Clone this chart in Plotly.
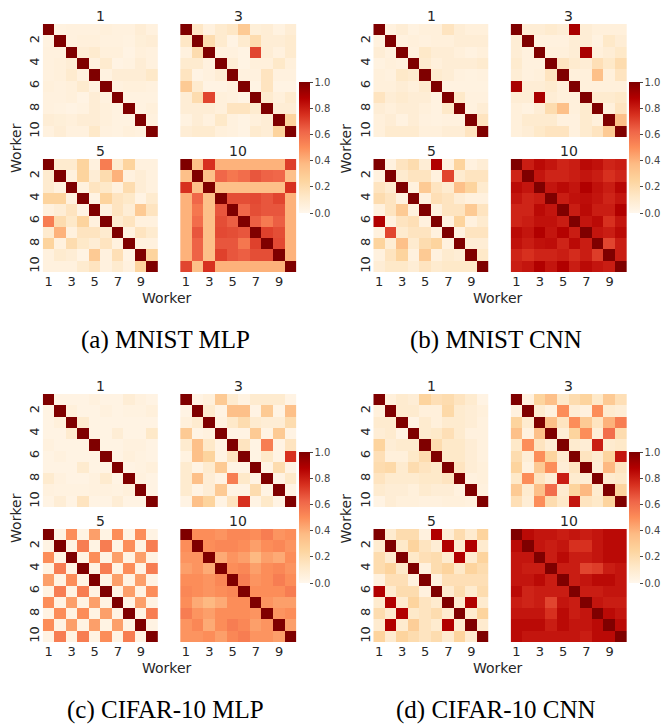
import plotly.graph_objects as go

W, H = 661, 725
workers = list(range(1, 11))
rounds = ["1", "3", "5", "10"]
captions = ["(a) MNIST MLP", "(b) MNIST CNN", "(c) CIFAR-10 MLP", "(d) CIFAR-10 CNN"]
x_ticks = [1, 3, 5, 7, 9]
y_ticks = [2, 4, 6, 8, 10]
cbar_ticks = [0.0, 0.2, 0.4, 0.6, 0.8, 1.0]

# ---------------- (a) MNIST MLP ----------------
mnist_mlp_1 = [
    [1, .04, .05, .05, .05, .06, .05, .05, .08, .05],
    [.04, 1, .05, .06, .06, .05, .05, .04, .07, .08],
    [.05, .05, 1, .08, .10, .06, .06, .03, .06, .05],
    [.05, .06, .08, 1, .05, .10, .03, .04, .08, .05],
    [.05, .06, .10, .05, 1, .04, .08, .08, .08, .12],
    [.06, .05, .06, .10, .04, 1, .05, .06, .06, .05],
    [.05, .05, .06, .03, .08, .05, 1, .04, .04, .04],
    [.05, .04, .03, .04, .08, .06, .04, 1, .04, .06],
    [.08, .07, .06, .08, .08, .06, .04, .04, 1, .05],
    [.05, .08, .05, .05, .12, .05, .04, .06, .05, 1],
]
mnist_mlp_3 = [
    [1, .13, .05, .10, .13, .30, .07, .08, .04, .08],
    [.13, 1, .20, .10, .03, .10, .20, .08, .08, .10],
    [.05, .20, 1, .05, .05, .03, .70, .08, .05, .10],
    [.10, .10, .05, 1, .08, .03, .06, .06, .12, .06],
    [.15, .03, .05, .08, 1, .05, .05, .15, .05, .05],
    [.30, .10, .03, .03, .05, 1, .03, .15, .03, .03],
    [.08, .20, .70, .06, .05, .03, 1, .10, .06, .10],
    [.08, .08, .08, .06, .15, .15, .10, 1, .08, .08],
    [.04, .08, .05, .12, .05, .03, .06, .08, 1, .25],
    [.08, .10, .10, .06, .05, .03, .10, .08, .25, 1],
]
mnist_mlp_5 = [
    [1, .10, .10, .25, .05, .55, .10, .25, .05, .05],
    [.10, 1, .05, .25, .08, .20, .40, .05, .08, .05],
    [.10, .05, 1, .05, .15, .12, .05, .20, .08, .05],
    [.25, .25, .05, 1, .03, .25, .15, .12, .03, .10],
    [.05, .08, .15, .03, 1, .05, .15, .08, .30, .15],
    [.55, .20, .12, .25, .05, 1, .10, .15, .05, .05],
    [.10, .40, .05, .15, .15, .10, 1, .05, .15, .10],
    [.25, .05, .20, .12, .08, .15, .05, 1, .05, .05],
    [.05, .10, .08, .03, .30, .05, .18, .03, 1, .25],
    [.05, .05, .05, .10, .15, .05, .10, .05, .25, 1],
]
mnist_mlp_10 = [
    [1, .35, .75, .40, .40, .40, .40, .40, .40, .72],
    [.35, 1, .35, .62, .57, .60, .66, .63, .62, .35],
    [.75, .35, 1, .35, .35, .35, .35, .35, .35, .75],
    [.40, .62, .35, 1, .68, .68, .69, .66, .70, .40],
    [.40, .57, .35, .66, 1, .62, .68, .66, .66, .40],
    [.40, .60, .35, .68, .64, 1, .64, .56, .64, .40],
    [.40, .66, .35, .69, .68, .66, 1, .71, .68, .40],
    [.40, .63, .35, .66, .66, .57, .71, 1, .69, .40],
    [.40, .63, .35, .71, .66, .64, .68, .68, 1, .40],
    [.70, .35, .75, .40, .40, .40, .40, .40, .40, 1],
]

# ---------------- (b) MNIST CNN ----------------
mnist_cnn_1 = [
    [1, .05, .08, .04, .06, .06, .15, .08, .06, .06],
    [.05, 1, .05, .06, .05, .06, .06, .08, .08, .08],
    [.08, .05, 1, .05, .12, .08, .08, .06, .04, .06],
    [.04, .06, .05, 1, .10, .06, .08, .08, .08, .10],
    [.06, .05, .12, .10, 1, .10, .08, .05, .04, .05],
    [.06, .06, .08, .06, .10, 1, .04, .04, .04, .04],
    [.15, .08, .10, .08, .08, .04, 1, .12, .05, .05],
    [.08, .06, .08, .08, .06, .04, .12, 1, .05, .08],
    [.06, .08, .04, .08, .05, .04, .05, .05, 1, .15],
    [.06, .10, .10, .10, .06, .06, .08, .08, .15, 1],
]
mnist_cnn_3 = [
    [1, .08, .08, .10, .08, .90, .08, .06, .06, .06],
    [.08, 1, .05, .05, .05, .08, .08, .04, .12, .08],
    [.08, .05, 1, .06, .06, .08, .90, .06, .08, .12],
    [.10, .05, .05, 1, .15, .10, .08, .18, .12, .20],
    [.08, .05, .06, .15, 1, .06, .06, .35, .06, .15],
    [.90, .08, .08, .10, .06, 1, .06, .06, .06, .06],
    [.08, .08, .90, .08, .06, .06, 1, .10, .10, .12],
    [.06, .04, .08, .20, .35, .06, .10, 1, .06, .15],
    [.06, .10, .10, .10, .05, .05, .10, .06, 1, .35],
    [.06, .08, .12, .15, .15, .05, .10, .15, .30, 1],
]
mnist_cnn_5 = [
    [1, .05, .15, .20, .08, .88, .05, .25, .05, .08],
    [.05, 1, .10, .15, .15, .05, .70, .10, .15, .15],
    [.15, .10, 1, .05, .30, .15, .10, .35, .25, .10],
    [.20, .15, .05, 1, .05, .18, .15, .08, .05, .05],
    [.05, .15, .30, .05, 1, .05, .15, .15, .30, .15],
    [.88, .05, .15, .18, .05, 1, .05, .25, .05, .10],
    [.05, .70, .10, .15, .15, .05, 1, .05, .15, .15],
    [.25, .08, .35, .10, .20, .25, .05, 1, .08, .08],
    [.05, .15, .25, .05, .30, .05, .10, .08, 1, .12],
    [.08, .12, .12, .08, .15, .10, .12, .12, .12, 1],
]
mnist_cnn_10 = [
    [1, .80, .85, .82, .78, .80, .85, .83, .78, .80],
    [.78, 1, .82, .78, .78, .80, .82, .80, .75, .78],
    [.85, .82, 1, .82, .85, .82, .88, .83, .80, .86],
    [.82, .78, .80, 1, .80, .83, .84, .82, .78, .82],
    [.78, .78, .85, .82, 1, .80, .85, .80, .80, .88],
    [.78, .80, .83, .83, .80, 1, .82, .85, .75, .82],
    [.85, .82, .88, .82, .87, .80, 1, .82, .80, .85],
    [.83, .80, .83, .84, .78, .85, .80, 1, .70, .80],
    [.78, .75, .78, .78, .80, .76, .80, .72, 1, .80],
    [.80, .82, .88, .82, .88, .80, .85, .82, .80, 1],
]

# ---------------- (c) CIFAR-10 MLP ----------------
cifar_mlp_1 = [
    [1, .03, .03, .03, .05, .03, .03, .08, .05, .03],
    [.03, 1, .06, .03, .03, .05, .03, .04, .04, .06],
    [.03, .06, 1, .10, .03, .03, .03, .03, .03, .03],
    [.03, .03, .10, 1, .03, .03, .08, .03, .03, .12],
    [.05, .03, .03, .03, 1, .03, .03, .05, .05, .03],
    [.03, .05, .03, .03, .03, 1, .03, .06, .04, .03],
    [.03, .03, .03, .10, .03, .03, 1, .03, .04, .06],
    [.10, .05, .03, .03, .05, .10, .03, 1, .05, .03],
    [.05, .04, .04, .04, .05, .05, .04, .06, 1, .03],
    [.03, .08, .03, .15, .03, .03, .08, .03, .03, 1],
]
cifar_mlp_3 = [
    [1, .03, .06, .30, .10, .04, .10, .10, .10, .03],
    [.03, 1, .10, .03, .35, .35, .03, .30, .03, .35],
    [.06, .10, 1, .05, .12, .20, .10, .08, .08, .20],
    [.30, .03, .05, 1, .03, .03, .30, .03, .30, .03],
    [.10, .35, .12, .03, 1, .15, .03, .55, .03, .15],
    [.04, .35, .25, .03, .15, 1, .03, .12, .03, .75],
    [.10, .03, .10, .30, .03, .03, 1, .03, .20, .03],
    [.10, .35, .08, .03, .55, .12, .03, 1, .03, .12],
    [.10, .03, .08, .30, .03, .03, .20, .03, 1, .03],
    [.03, .35, .25, .03, .15, .75, .03, .12, .03, 1],
]
cifar_mlp_5 = [
    [1, .03, .50, .03, .45, .03, .50, .03, .50, .03],
    [.03, 1, .03, .55, .03, .55, .03, .50, .03, .55],
    [.50, .03, 1, .03, .50, .03, .45, .03, .45, .03],
    [.03, .55, .03, 1, .03, .55, .03, .50, .03, .55],
    [.45, .03, .50, .03, 1, .03, .45, .03, .45, .03],
    [.03, .55, .03, .55, .03, 1, .03, .45, .03, .50],
    [.50, .03, .45, .03, .45, .03, 1, .03, .45, .03],
    [.03, .50, .03, .50, .03, .45, .03, 1, .03, .55],
    [.50, .03, .45, .03, .45, .03, .45, .03, 1, .03],
    [.03, .55, .03, .55, .03, .50, .03, .55, .03, 1],
]
cifar_mlp_10 = [
    [1, .50, .50, .48, .52, .52, .50, .55, .48, .50],
    [.50, 1, .50, .52, .52, .50, .45, .50, .52, .48],
    [.48, .48, 1, .42, .48, .45, .38, .45, .42, .50],
    [.45, .48, .42, 1, .50, .52, .45, .50, .52, .48],
    [.50, .50, .48, .52, 1, .55, .48, .50, .55, .50],
    [.52, .50, .48, .50, .52, 1, .50, .50, .50, .55],
    [.50, .42, .38, .42, .50, .50, 1, .48, .45, .45],
    [.55, .48, .45, .50, .50, .50, .48, 1, .48, .50],
    [.48, .52, .42, .50, .55, .52, .45, .48, 1, .45],
    [.48, .48, .50, .45, .52, .55, .48, .48, .45, 1],
]

# ---------------- (d) CIFAR-10 CNN ----------------
cifar_cnn_1 = [
    [1, .06, .10, .08, .25, .18, .20, .15, .10, .03],
    [.06, 1, .10, .10, .06, .06, .22, .10, .08, .06],
    [.10, .10, 1, .03, .10, .06, .10, .10, .08, .05],
    [.08, .10, .03, 1, .10, .12, .18, .10, .05, .05],
    [.25, .08, .10, .10, 1, .20, .12, .12, .08, .05],
    [.18, .06, .06, .12, .20, 1, .12, .12, .08, .05],
    [.20, .22, .10, .20, .15, .12, 1, .15, .08, .06],
    [.15, .10, .10, .10, .12, .12, .15, 1, .05, .06],
    [.10, .08, .08, .06, .10, .08, .08, .05, 1, .05],
    [.03, .08, .06, .06, .05, .05, .06, .06, .05, 1],
]
cifar_cnn_3 = [
    [1, .05, .25, .35, .12, .20, .25, .12, .30, .18],
    [.05, 1, .10, .05, .50, .08, .05, .50, .10, .08],
    [.25, .10, 1, .35, .15, .50, .30, .15, .40, .55],
    [.35, .05, .35, 1, .08, .25, .50, .08, .60, .20],
    [.12, .50, .15, .08, 1, .10, .08, .80, .10, .12],
    [.20, .08, .50, .25, .10, 1, .15, .10, .25, .82],
    [.25, .05, .30, .50, .08, .15, 1, .08, .38, .15],
    [.12, .50, .15, .08, .80, .10, .08, 1, .10, .12],
    [.30, .10, .35, .60, .10, .25, .38, .10, 1, .25],
    [.18, .08, .50, .20, .12, .82, .15, .12, .25, 1],
]
cifar_cnn_5 = [
    [1, .10, .20, .20, .05, .88, .08, .20, .10, .25],
    [.10, 1, .12, .25, .15, .08, .88, .10, .88, .10],
    [.20, .10, 1, .12, .18, .20, .10, .88, .10, .25],
    [.20, .25, .12, 1, .05, .20, .25, .12, .25, .20],
    [.05, .18, .18, .05, 1, .05, .18, .18, .18, .18],
    [.88, .10, .20, .20, .05, 1, .10, .20, .10, .20],
    [.10, .88, .10, .25, .15, .10, 1, .10, .88, .10],
    [.20, .10, .88, .12, .15, .20, .10, 1, .10, .25],
    [.10, .88, .10, .28, .15, .10, .88, .10, 1, .10],
    [.25, .10, .25, .20, .15, .20, .10, .25, .10, 1],
]
cifar_cnn_10 = [
    [1, .85, .82, .82, .80, .82, .80, .82, .85, .85],
    [.85, 1, .82, .80, .82, .75, .75, .82, .85, .85],
    [.82, .82, 1, .80, .85, .80, .80, .82, .85, .85],
    [.82, .80, .80, 1, .80, .80, .70, .72, .80, .82],
    [.82, .82, .85, .80, 1, .80, .82, .85, .85, .82],
    [.85, .78, .80, .80, .80, 1, .80, .80, .82, .82],
    [.80, .78, .80, .70, .82, .80, 1, .82, .80, .80],
    [.82, .82, .82, .75, .85, .80, .82, 1, .85, .82],
    [.85, .85, .85, .80, .85, .82, .82, .85, 1, .85],
    [.85, .82, .82, .82, .82, .82, .80, .85, .85, 1],
]

panels = [
    [mnist_mlp_1, mnist_mlp_3, mnist_mlp_5, mnist_mlp_10],
    [mnist_cnn_1, mnist_cnn_3, mnist_cnn_5, mnist_cnn_10],
    [cifar_mlp_1, cifar_mlp_3, cifar_mlp_5, cifar_mlp_10],
    [cifar_cnn_1, cifar_cnn_3, cifar_cnn_5, cifar_cnn_10],
]

# ---------------- layout geometry (pixels) ----------------
panel_off = [(0, 0), (332, 0), (0, 370), (332, 370)]
col_x = [(43, 159), (181, 298)]
row_y = [(24, 137), (159, 272)]
TXT = "#262626"
FONT = "DejaVu Sans"


def px(x):
    return x / W


def py(y):
    return 1 - y / H


fig = go.Figure()
layout = dict(
    width=W, height=H, margin=dict(l=0, r=0, t=0, b=0),
    paper_bgcolor="white", plot_bgcolor="white",
    font=dict(family=FONT, color=TXT), showlegend=False,
)
annotations = []
n = 0
for p, mats in enumerate(panels):
    ox, oy = panel_off[p]
    ca = "coloraxis" if p == 0 else f"coloraxis{p + 1}"
    layout[ca] = dict(
        colorscale="OrRd", cmin=0, cmax=1,
        colorbar=dict(
            x=px(ox + 300), xanchor="left", xref="paper",
            y=py(oy + 147.5), yanchor="middle", yref="paper",
            len=131, lenmode="pixels", thickness=11, thicknessmode="pixels",
            xpad=0, ypad=0, outlinewidth=0,
            tickvals=cbar_ticks, tickformat=".1f",
            ticks="outside", ticklen=3, tickwidth=1, tickcolor="#444",
            tickfont=dict(size=10, color="#444", family=FONT),
        ),
    )
    for k, z in enumerate(mats):
        n += 1
        r, c = divmod(k, 2)
        x0, x1 = col_x[c]
        y0, y1 = row_y[r]
        xa = "x" if n == 1 else f"x{n}"
        ya = "y" if n == 1 else f"y{n}"
        fig.add_trace(go.Heatmap(
            z=z, x=workers, y=workers, coloraxis=ca,
            xaxis=xa, yaxis=ya, hoverinfo="skip",
        ))
        xkey = "xaxis" if n == 1 else f"xaxis{n}"
        ykey = "yaxis" if n == 1 else f"yaxis{n}"
        layout[xkey] = dict(
            domain=[px(ox + x0), px(ox + x1)], anchor=ya,
            range=[0.5, 10.5], showgrid=False, zeroline=False, showline=False,
            tickvals=x_ticks if r == 1 else [], ticks="",
            tickfont=dict(size=13, color=TXT, family=FONT), fixedrange=True,
        )
        layout[ykey] = dict(
            domain=[py(oy + y1), py(oy + y0)], anchor=xa,
            range=[10.5, 0.5], showgrid=False, zeroline=False, showline=False,
            tickvals=y_ticks if c == 0 else [], ticks="", tickangle=-90,
            tickfont=dict(size=13, color=TXT, family=FONT), fixedrange=True,
        )
        annotations.append(dict(
            text=rounds[k], xref="paper", yref="paper",
            x=px(ox + (x0 + x1) / 2), y=py(oy + y0 - 8),
            xanchor="center", yanchor="middle", showarrow=False,
            font=dict(size=14, color=TXT, family=FONT),
        ))
    # axis labels
    annotations.append(dict(
        text="Worker", xref="paper", yref="paper",
        x=px(ox + 168), y=py(oy + 298), xanchor="center", yanchor="middle",
        showarrow=False, font=dict(size=14, color=TXT, family=FONT),
    ))
    annotations.append(dict(
        text="Worker", xref="paper", yref="paper", textangle=-90,
        x=px(ox + 16), y=py(oy + 148), xanchor="center", yanchor="middle",
        showarrow=False, font=dict(size=14, color=TXT, family=FONT),
    ))
    annotations.append(dict(
        text=captions[p], xref="paper", yref="paper",
        x=px(ox + 166), y=py(oy + 340), xanchor="center", yanchor="middle",
        showarrow=False, font=dict(size=25, color="black", family="Liberation Serif"),
    ))

layout["annotations"] = annotations
fig.update_layout(**layout)
fig.write_html("out.html")
